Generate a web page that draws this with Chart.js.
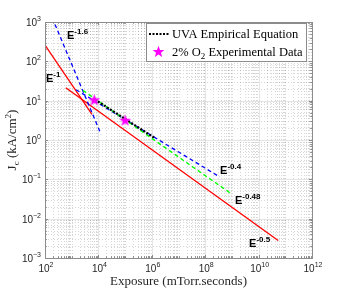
<!DOCTYPE html>
<html>
<head>
<meta charset="utf-8">
<script src="https://cdn.jsdelivr.net/npm/chart.js@4.4.1/dist/chart.umd.min.js"></script>
<style>
  html, body { margin: 0; padding: 0; background: #fff; }
  #wrap { width: 345px; height: 290px; position: relative; }
</style>
</head>
<body>
<div id="wrap"><canvas id="jc-chart"></canvas></div>
<script>
// Exposure (mTorr.s) vs critical current density (kA/cm^2)
const xTickExps = [2, 4, 6, 8, 10, 12];
const yTickExps = [-3, -2, -1, 0, 1, 2, 3];

const redSteepE = [100, 5750];
const redSteepJ = [257, 4.47];
const redShallowE = [600, 5.4e10];
const redShallowJ = [21.4, 0.0028];
const blueSteepE = [237, 12600];
const blueSteepJ = [870, 1.39];
const blueShallowE = [1450, 3.5e8];
const blueShallowJ = [19, 0.115];
const greenE = [2630, 1e9];
const greenJ = [18.3, 0.042];
const uvaE = [7400, 1.2e6];
const uvaJ = [10.7, 1.16];
const expE = [7000, 1e5];
const expJ = [10.5, 3.2];

// slope annotations (exponent text, anchor in data space)
const slopeText = ['-1.6', '-1', '-0.4', '-0.48', '-0.5'];
const slopeE = [667, 109, 3.6e8, 1.3e9, 4.4e9];
const slopeJ = [363, 29, 0.133, 0.023, 0.00196];

const SANS = '"Liberation Sans", Arial, sans-serif';
const SERIF = '"Liberation Serif", "Times New Roman", serif';

function pts(xs, ys) {
    return xs.map((x, i) => ({ x: x, y: ys[i] }));
}

// filled five point star used as marker
function makeStar(size, color) {
    const c = document.createElement('canvas');
    c.width = size; c.height = size;
    const g = c.getContext('2d');
    const cx = size / 2, cy = size / 2 + 0.5, ro = size / 2 - 0.3, ri = ro * 0.42;
    g.beginPath();
    for (let i = 0; i < 10; i++) {
        const r = i % 2 ? ri : ro;
        const a = -Math.PI / 2 + i * Math.PI / 5;
        g.lineTo(cx + r * Math.cos(a), cy + r * Math.sin(a));
    }
    g.closePath();
    g.fillStyle = color;
    g.fill();
    return c;
}
const starImg = makeStar(13, '#ff00ff');

// draw text made of parts: {t, size, dy, bold, font}
function richText(ctx, parts, x, y, align) {
    let w = 0;
    parts.forEach(p => {
        ctx.font = (p.bold ? 'bold ' : '') + p.size + 'px ' + p.font;
        p.w = ctx.measureText(p.t).width;
        w += p.w;
    });
    let cx = x;
    if (align === 'center') cx = x - w / 2;
    if (align === 'right') cx = x - w;
    parts.forEach(p => {
        ctx.font = (p.bold ? 'bold ' : '') + p.size + 'px ' + p.font;
        ctx.fillText(p.t, cx, y + (p.dy || 0));
        cx += p.w;
    });
}

function lineSet(xs, ys, color, dash, width, order) {
    return {
        data: pts(xs, ys),
        showLine: true,
        borderColor: color,
        borderWidth: width || 1.3,
        borderDash: dash || [],
        pointRadius: 0,
        fill: false,
        order: order
    };
}

const matlabAxes = {
    id: 'matlabAxes',
    beforeDatasetsDraw(chart) {
        const { ctx, chartArea: a, scales: { x, y } } = chart;
        ctx.save();
        ctx.lineWidth = 0.8;
        // minor grid
        ctx.setLineDash([1, 2]);
        ctx.strokeStyle = 'rgba(0,0,0,0.2)';
        for (let e = 2; e < 12; e++) {
            for (let k = 1; k <= 9; k++) {
                if (k === 1 && e % 2 === 0) continue;
                const px = Math.round(x.getPixelForValue(k * Math.pow(10, e))) + 0.5;
                ctx.beginPath(); ctx.moveTo(px, a.top); ctx.lineTo(px, a.bottom); ctx.stroke();
            }
        }
        for (let e = -3; e < 3; e++) {
            for (let k = 2; k <= 9; k++) {
                const py = Math.round(y.getPixelForValue(k * Math.pow(10, e))) + 0.5;
                ctx.beginPath(); ctx.moveTo(a.left, py); ctx.lineTo(a.right, py); ctx.stroke();
            }
        }
        // major grid
        ctx.setLineDash([]);
        ctx.strokeStyle = 'rgba(0,0,0,0.13)';
        xTickExps.forEach(e => {
            const px = Math.round(x.getPixelForValue(Math.pow(10, e))) + 0.5;
            ctx.beginPath(); ctx.moveTo(px, a.top); ctx.lineTo(px, a.bottom); ctx.stroke();
        });
        yTickExps.forEach(e => {
            const py = Math.round(y.getPixelForValue(Math.pow(10, e))) + 0.5;
            ctx.beginPath(); ctx.moveTo(a.left, py); ctx.lineTo(a.right, py); ctx.stroke();
        });
        ctx.restore();
    },
    afterDatasetsDraw(chart) {
        const { ctx, chartArea: a, scales: { x, y } } = chart;
        ctx.save();
        // box and inward ticks
        ctx.strokeStyle = '#8c8c8c';
        ctx.lineWidth = 1;
        ctx.strokeRect(Math.round(a.left) + 0.5, Math.round(a.top) + 0.5,
            Math.round(a.right - a.left), Math.round(a.bottom - a.top));
        for (let e = 2; e < 12; e++) {
            for (let k = 1; k <= 9; k++) {
                const len = (k === 1 && e % 2 === 0) ? 3 : 1.8;
                const px = Math.round(x.getPixelForValue(k * Math.pow(10, e))) + 0.5;
                ctx.beginPath();
                ctx.moveTo(px, a.bottom); ctx.lineTo(px, a.bottom - len);
                ctx.moveTo(px, a.top); ctx.lineTo(px, a.top + len);
                ctx.stroke();
            }
        }
        for (let e = -3; e < 3; e++) {
            for (let k = 1; k <= 9; k++) {
                const len = k === 1 ? 3 : 1.8;
                const py = Math.round(y.getPixelForValue(k * Math.pow(10, e))) + 0.5;
                ctx.beginPath();
                ctx.moveTo(a.left, py); ctx.lineTo(a.left + len, py);
                ctx.moveTo(a.right, py); ctx.lineTo(a.right - len, py);
                ctx.stroke();
            }
        }

        // tick labels
        ctx.fillStyle = '#262626';
        ctx.textBaseline = 'alphabetic';
        xTickExps.forEach(e => {
            const px = x.getPixelForValue(Math.pow(10, e));
            richText(ctx, [
                { t: '10', size: 10, font: SANS },
                { t: String(e), size: 7, dy: -5, font: SANS }
            ], px + 1, a.bottom + 14, 'center');
        });
        yTickExps.forEach(e => {
            const py = y.getPixelForValue(Math.pow(10, e));
            richText(ctx, [
                { t: '10', size: 10, font: SANS },
                { t: String(e).replace('-', '\u2212'), size: 7, dy: -5, font: SANS }
            ], a.left - 4, py + 4, 'right');
        });

        // axis titles
        ctx.fillStyle = '#262626';
        richText(ctx, [{ t: 'Exposure (mTorr.seconds)', size: 13, font: SERIF }],
            (a.left + a.right) / 2, a.bottom + 27, 'center');
        ctx.save();
        ctx.translate(16, (a.top + a.bottom) / 2);
        ctx.rotate(-Math.PI / 2);
        richText(ctx, [
            { t: 'J', size: 13, font: SERIF },
            { t: 'c', size: 9, dy: 2.5, font: SERIF },
            { t: ' (kA/cm', size: 13, font: SERIF },
            { t: '2', size: 9, dy: -5, font: SERIF },
            { t: ')', size: 13, font: SERIF }
        ], 0, 0, 'center');
        ctx.restore();

        // slope annotations
        ctx.fillStyle = '#000';
        slopeText.forEach((s, i) => {
            const px = x.getPixelForValue(slopeE[i]);
            const py = y.getPixelForValue(slopeJ[i]);
            richText(ctx, [
                { t: 'E', size: 11, bold: true, font: SANS },
                { t: s, size: 8, bold: true, dy: -5, font: SANS }
            ], px, py, 'left');
        });

        // legend box
        const lx = 146, ly = 23, lw = 160, lh = 38;
        ctx.fillStyle = '#fff';
        ctx.fillRect(lx, ly, lw, lh);
        ctx.strokeStyle = '#8c8c8c';
        ctx.lineWidth = 1;
        ctx.strokeRect(lx + 0.5, ly + 0.5, lw, lh);
        ctx.strokeStyle = '#000';
        ctx.lineWidth = 2;
        ctx.setLineDash([2, 1.5]);
        ctx.beginPath(); ctx.moveTo(lx + 3, ly + 11); ctx.lineTo(lx + 24, ly + 11); ctx.stroke();
        ctx.setLineDash([]);
        ctx.drawImage(starImg, lx + 6, ly + 22);
        ctx.fillStyle = '#000';
        richText(ctx, [{ t: 'UVA Empirical Equation', size: 12.5, font: SERIF }], lx + 26, ly + 15, 'left');
        richText(ctx, [
            { t: '2% O', size: 12.5, font: SERIF },
            { t: '2', size: 9, dy: 2.5, font: SERIF },
            { t: ' Experimental Data', size: 12.5, font: SERIF }
        ], lx + 26, ly + 33, 'left');
        ctx.restore();
    }
};

new Chart(document.getElementById('jc-chart'), {
    type: 'scatter',
    data: {
        datasets: [
            lineSet(redSteepE, redSteepJ, '#ff0000', null, 1.3, 5),
            lineSet(redShallowE, redShallowJ, '#ff0000', null, 1.3, 5),
            lineSet(blueSteepE, blueSteepJ, '#0000ff', [4, 3], 1.3, 4),
            lineSet(blueShallowE, blueShallowJ, '#0000ff', [4, 3], 1.3, 3),
            lineSet(greenE, greenJ, '#00ff00', [4, 3], 1.3, 2),
            lineSet(uvaE, uvaJ, '#000000', [2, 1.6], 2.2, 1),
            {
                data: pts(expE, expJ),
                showLine: false,
                pointStyle: starImg,
                pointRadius: 6,
                order: 0
            }
        ]
    },
    options: {
        responsive: true,
        maintainAspectRatio: false,
        animation: false,
        layout: { padding: { left: 45, right: 33, top: 22, bottom: 32 } },
        plugins: { legend: { display: false }, tooltip: { enabled: false } },
        scales: {
            x: { type: 'logarithmic', display: false, min: 1e2, max: 1e12 },
            y: { type: 'logarithmic', display: false, min: 1e-3, max: 1e3 }
        }
    },
    plugins: [matlabAxes]
});
</script>
</body>
</html>
